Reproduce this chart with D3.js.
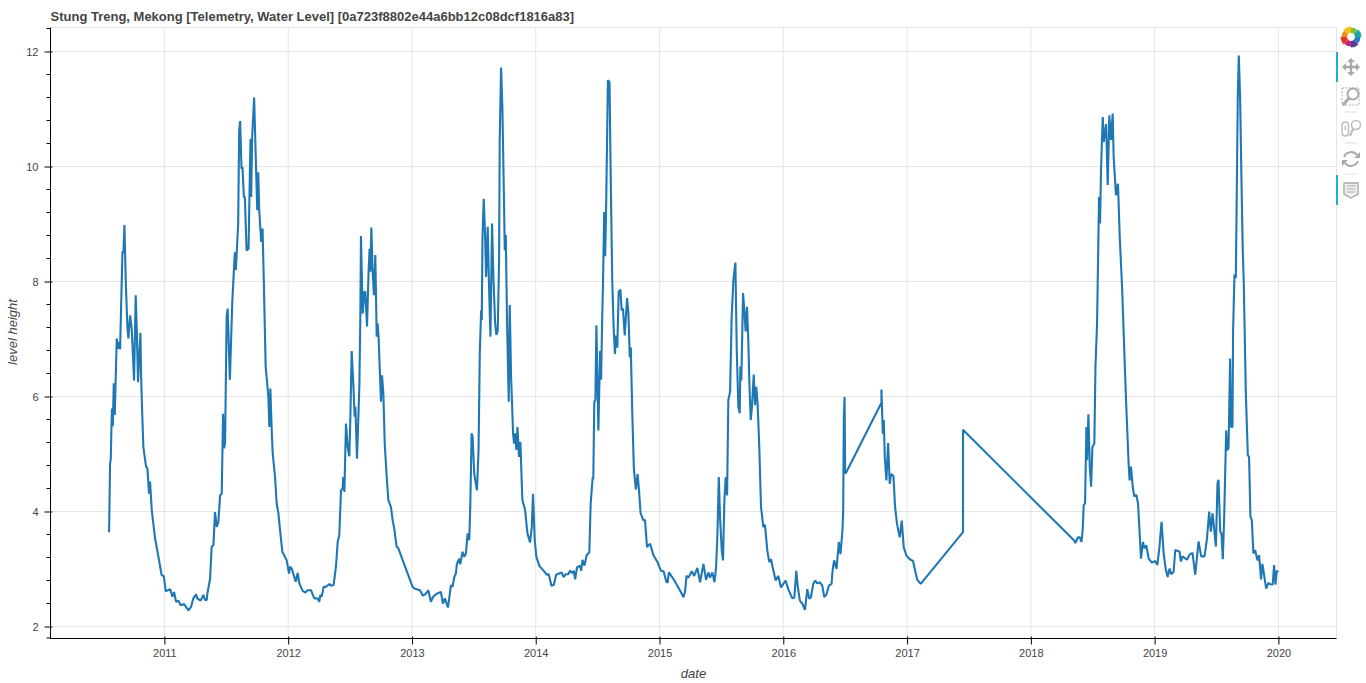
<!DOCTYPE html>
<html><head><meta charset="utf-8">
<script src="https://cdn.jsdelivr.net/npm/d3@7"></script>
<style>
html,body{margin:0;padding:0;background:#fff;overflow:hidden}
svg{display:block}
text{font-family:"Liberation Sans",Arial,Helvetica,sans-serif}
</style></head><body>
<svg id="c" width="1366" height="683"></svg>
<script>
const chartTitle = "Stung Treng, Mekong [Telemetry, Water Level] [0a723f8802e44a6bb12c08dcf1816a83]";
const xLabel = "date", yLabel = "level height";
const yearTicks = [2011,2012,2013,2014,2015,2016,2017,2018,2019,2020];
const levelTicks = [2,4,6,8,10,12];
const levelMinorTicks = [2.4,2.8,3.2,3.6,4.4,4.8,5.2,5.6,6.4,6.8,7.2,7.6,8.4,8.8,9.2,9.6,10.4,10.8,11.2,11.6,12.4,1.8];

// decimal-year dates
const dates = [
2010.553,.561,.567,.572,.577,.583,.591,.599,.615,.626,.634,.642,.661,.669,.677,.688,.701,.709,.723,.736,.755,.768,.777,.787,.806,.812,.820,.830,.852,.863,.876,.884,.898,.925,.952,.978,.995,
2011.011,.046,.065,.078,.094,.113,.132,.159,.194,.215,.234,.256,.266,.293,.315,.328,.342,.347,.369,.382,.396,.409,.423,.436,.450,.463,.474,.482,.490,.503,.511,.529,.548,.564,.570,.577,.596,.604,.612,.623,.631,.642,.650,.664,.680,.690,.696,.701,.709,.725,.739,.750,.758,.766,.782,.793,.803,.818,.833,.840,.848,.856,.867,.875,.894,.907,.921,.934,.953,.988,
2012.007,.015,.028,.061,.077,.090,.117,.139,.157,.184,.211,.238,.251,.260,.271,.287,.306,.333,.347,.367,.386,.400,.413,.427,.440,.445,.454,.467,.481,.494,.502,.513,.526,.537,.543,.556,.575,.583,.588,.602,.615,.623,.637,.650,.658,.664,.672,.682,.693,.704,.715,.723,.731,.739,.750,.758,.769,.780,.796,.809,.830,.844,.857,.876,.890,
2013.005,.019,.065,.086,.108,.132,.153,.172,.199,.234,.250,.266,.291,.315,.328,.342,.355,.363,.382,.390,.409,.423,.436,.450,.463,.471,.482,.490,.503,.525,.538,.548,.559,.564,.570,.580,.591,.599,.612,.620,.634,.647,.658,.672,.682,.693,.704,.709,.720,.731,.742,.750,.758,.769,.782,.790,.801,.817,.825,.833,.844,.852,.865,.876,.892,.914,.933,.954,.968,.978,.992,
2014.005,.030,.060,.090,.105,.127,.146,.165,.209,.225,.242,.263,.277,.296,.307,.318,.334,.356,.367,.378,.394,.411,.433,.444,.460,.465,.473,.482,.490,.506,.520,.528,.536,.544,.553,.561,.569,.583,.596,.607,.618,.629,.640,.648,.659,.670,.684,.694,.705,.719,.738,.749,.760,.768,.779,.793,.809,.823,.834,.847,.869,.883,.899,.924,.951,.984,
2015.011,.033,.055,.065,.076,.120,.167,.194,.207,.218,.234,.261,.280,.306,.328,.355,.376,.395,.409,.427,.444,.457,.468,.479,.489,.503,.513,.524,.535,.546,.556,.570,.583,.597,.613,.624,.637,.648,.653,.661,.675,.686,.696,.707,.718,.726,.737,.747,.761,.772,.782,.793,.806,.820,.839,.852,.871,.887,.901,.914,.938,.960,.981,
2016.000,.019,.040,.073,.089,.105,.116,.134,.156,.175,.194,.210,.223,.242,.258,.274,.296,.315,.331,.349,.368,.390,.398,.411,.430,.449,.462,.478,.484,.489,.495,.500,.511,.793,.793,.804,.812,.820,.833,.847,.860,.871,.890,.903,.919,.941,.957,.973,.995,
2017.022,.048,.065,.083,.110,.452,.452,
2018.352,.360,.379,.395,.409,.419,.427,.438,.449,.454,.465,.476,.487,.497,.513,.522,.535,.543,.551,.559,.567,.581,.589,.608,.621,.634,.648,.661,.669,.688,.704,.718,.737,.750,.769,.790,.798,.809,.823,.836,.852,.866,.879,.890,.906,.917,.933,.952,.978,
2019.005,.022,.038,.056,.073,.089,.105,.121,.134,.153,.167,.202,.212,.226,.261,.282,.306,.328,.355,.376,.403,.422,.441,.454,.468,.495,.508,.516,.530,.540,.551,.562,.578,.586,.597,.602,.610,.618,.629,.634,.645,.656,.664,.672,.680,.691,.702,.712,.720,.737,.753,.763,.774,.785,.798,.812,.831,.844,.860,.871,.901,.919,.938,.954,.965,.976,.987,.997
].reduce((acc, d) => { // entries below 1 continue the current year
  if (d >= 1) { acc.year = Math.floor(d); acc.list.push(d); }
  else acc.list.push(acc.year + d);
  return acc;
}, {year: 0, list: []}).list;

const levels = [
3.64,4.83,4.92,5.47,5.79,5.48,6.23,5.68,7.01,6.83,6.95,6.82,8.52,8.49,8.98,7.99,7.21,7.01,7.41,7.18,6.28,7.76,7.15,6.25,7.11,6.34,5.76,5.12,4.78,4.75,4.31,4.52,4.02,3.53,3.21,2.89,2.88,
2.61,2.65,2.52,2.60,2.43,2.45,2.37,2.39,2.28,2.34,2.49,2.56,2.49,2.45,2.55,2.46,2.46,2.57,2.83,3.39,3.41,3.99,3.73,3.82,4.28,4.31,5.70,5.10,5.18,7.39,7.53,6.29,7.62,8.31,8.51,8.20,9.00,10.62,10.79,9.96,9.99,9.47,9.47,8.54,8.57,9.82,10.48,9.47,10.51,11.20,10.10,9.24,9.90,9.24,8.69,8.92,8.02,6.52,6.17,5.99,5.47,6.14,5.41,5.01,4.60,4.14,3.97,3.68,3.30,3.15,
2.92,3.04,3.01,2.78,2.93,2.75,2.62,2.59,2.63,2.63,2.49,2.49,2.43,2.55,2.52,2.69,2.69,2.74,2.71,2.72,3.04,3.47,3.59,4.37,4.40,4.60,4.34,5.53,5.12,4.96,5.59,6.79,6.23,5.65,5.82,4.92,6.17,7.39,8.79,7.44,7.82,7.82,7.22,8.20,8.57,8.17,8.94,8.20,7.76,8.46,7.04,7.27,7.01,6.52,5.91,6.37,6.05,5.18,4.60,4.20,4.08,3.85,3.70,3.39,3.36,
2.69,2.66,2.63,2.54,2.56,2.63,2.43,2.52,2.57,2.60,2.40,2.49,2.33,2.72,2.69,2.86,2.92,3.09,3.18,3.08,3.30,3.21,3.27,3.62,3.50,4.08,5.36,5.30,4.66,4.37,5.07,6.75,7.50,7.33,8.78,9.44,8.78,8.08,8.95,8.14,7.04,9.01,8.08,7.27,7.07,7.15,8.37,10.46,11.72,10.98,9.59,8.54,8.81,7.21,5.91,7.59,6.34,5.36,5.18,5.36,5.07,5.47,4.95,5.21,4.20,4.03,3.62,3.46,3.73,4.31,3.50,
3.21,3.05,2.98,2.90,2.91,2.71,2.72,2.90,2.94,2.86,2.91,2.91,2.97,2.93,2.97,2.82,3.03,3.06,2.97,3.16,3.06,3.24,3.29,4.15,4.59,4.56,5.91,5.94,7.24,5.41,6.79,6.29,7.26,8.03,9.21,8.44,9.32,11.50,11.47,9.62,8.03,7.21,6.74,7.06,6.85,7.82,7.86,7.50,7.53,7.06,7.71,7.44,6.68,6.85,5.79,4.74,4.38,4.65,4.38,3.97,3.85,3.85,3.38,3.44,3.24,3.12,
2.97,2.96,2.78,2.76,2.94,2.80,2.62,2.51,2.62,2.88,2.85,2.96,2.88,3.02,2.77,3.09,2.81,2.94,2.85,2.94,2.77,3.03,3.61,4.60,3.90,3.32,3.15,4.19,4.60,4.28,5.94,6.08,7.39,8.03,8.33,6.81,5.82,5.71,6.52,6.28,7.80,7.48,7.13,7.56,6.92,6.23,5.59,5.82,6.38,5.85,6.17,5.85,5.12,4.08,3.73,3.77,3.32,3.12,3.17,3.03,2.80,2.88,2.68,
2.74,2.80,2.65,2.49,2.50,2.97,2.71,2.45,2.39,2.29,2.65,2.48,2.51,2.74,2.80,2.75,2.77,2.71,2.51,2.56,2.71,2.74,2.97,3.15,3.00,3.47,3.26,3.67,4.02,5.64,5.99,4.66,4.69,5.89,6.12,5.35,5.59,4.95,4.54,5.19,4.48,4.65,4.62,4.08,3.78,3.55,3.84,3.38,3.23,
3.17,3.14,2.97,2.81,2.74,3.64,5.42,
3.49,3.45,3.55,3.55,3.47,3.68,4.11,4.14,5.47,4.89,5.69,4.78,4.43,5.12,5.18,6.52,7.27,8.37,9.47,9.01,9.94,10.86,10.43,10.74,9.68,10.89,10.46,10.92,10.17,9.50,9.70,8.78,7.91,7.10,5.94,4.83,4.54,4.78,4.43,4.26,4.29,4.14,3.62,3.18,3.47,3.36,3.41,3.18,3.11,
3.14,3.07,3.36,3.82,3.27,3.01,2.86,3.01,2.91,2.95,3.33,3.30,3.13,3.22,3.16,3.25,3.28,2.90,3.48,3.22,3.22,3.51,4.00,3.65,3.97,3.39,4.49,4.55,3.65,3.62,3.17,3.91,5.41,5.07,5.10,5.68,6.66,5.47,5.47,7.15,8.12,8.06,9.59,11.23,11.93,11.17,9.71,8.55,8.00,6.05,4.98,4.95,3.91,3.85,3.27,3.33,3.15,3.24,2.82,3.09,2.66,2.76,2.73,2.73,3.07,2.73,2.97,2.94
];

const n = Math.min(dates.length, levels.length);
const series = d3.range(n).map(i => ({date: dates[i], level: levels[i]}));

const frame = {left: 50.5, right: 1336.5, top: 27.5, bottom: 638.5};
const x = d3.scaleLinear().domain([2011, 2020]).range([164.4, 1278.4]);
const y = d3.scaleLinear().domain([2, 12]).range([626.5, 51.5]);
const svg = d3.select("#c");

// frame + grid
svg.append("rect").attr("x", frame.left).attr("y", frame.top)
  .attr("width", frame.right - frame.left).attr("height", frame.bottom - frame.top)
  .attr("fill", "none").attr("stroke", "#e5e5e5");
const grid = svg.append("g").attr("stroke", "#e5e5e5").attr("stroke-width", 1);
grid.selectAll("line.gx").data(yearTicks).join("line")
  .attr("x1", d => x(d)).attr("x2", d => x(d)).attr("y1", frame.top).attr("y2", frame.bottom);
grid.selectAll("line.gy").data(levelTicks).join("line")
  .attr("x1", frame.left).attr("x2", frame.right).attr("y1", d => y(d)).attr("y2", d => y(d));

// series
svg.append("path").datum(series)
  .attr("d", d3.line().x(d => x(d.date)).y(d => y(d.level)))
  .attr("fill", "none").attr("stroke", "#1f77b4").attr("stroke-width", 2.1).attr("stroke-linejoin", "bevel");

// axes
const gx = svg.append("g").attr("transform", `translate(0,${frame.bottom})`)
  .call(d3.axisBottom(x).tickValues(yearTicks).tickFormat(d3.format("d")).tickSize(6).tickPadding(5));
const gy = svg.append("g").attr("transform", `translate(${frame.left},0)`)
  .call(d3.axisLeft(y).tickValues(levelTicks).tickFormat(d3.format("d")).tickSize(6).tickPadding(6));
[gx, gy].forEach(g => {
  g.select(".domain").remove();
  g.selectAll("text").attr("font-size", 11).attr("fill", "#444").style("font-family", '"Liberation Sans",Arial,sans-serif');
  g.selectAll("line").attr("stroke", "#000");
});
gx.selectAll("g.tick").append("line").attr("y1", 0).attr("y2", -2).attr("stroke", "#000");
gy.selectAll("g.tick").append("line").attr("x1", 0).attr("x2", 2).attr("stroke", "#000");
gy.selectAll("line.minor").data(levelMinorTicks).join("line").attr("class", "minor")
  .attr("x1", -4).attr("x2", 0).attr("y1", d => y(d) ).attr("y2", d => y(d)).attr("stroke", "#000");
svg.append("line").attr("x1", frame.left).attr("x2", frame.left).attr("y1", frame.top).attr("y2", frame.bottom).attr("stroke", "#000");
svg.append("line").attr("x1", frame.left).attr("x2", frame.right).attr("y1", frame.bottom).attr("y2", frame.bottom).attr("stroke", "#000");

// titles
svg.append("text").attr("x", 50.5).attr("y", 20.5).attr("font-size", 13).attr("font-weight", "bold").attr("fill", "#444").text(chartTitle);
svg.append("text").attr("x", 693.5).attr("y", 677.5).attr("text-anchor", "middle").attr("font-size", 13).attr("font-style", "italic").attr("fill", "#444").text(xLabel);
svg.append("text").attr("transform", "translate(16.5,332) rotate(-90)").attr("text-anchor", "middle").attr("font-size", 13).attr("font-style", "italic").attr("fill", "#444").text(yLabel);

// toolbar
const tb = svg.append("g");
const logoColors = ["#7dbf3a","#1fa6a0","#2a7fc6","#5b3d99","#c4237c","#e8362b","#f58a1f","#fbc01a"];
const logo = tb.append("g").attr("transform", "translate(1351,37)");
const pie = d3.pie().value(1).sort(null)(logoColors);
logo.selectAll("path").data(pie).join("path")
  .attr("d", d3.arc().innerRadius(4).outerRadius(d => d.index % 2 ? 10.5 : 9.5))
  .attr("fill", d => d.data);
tb.selectAll("rect.act").data([52, 175]).join("rect").attr("class", "act")
  .attr("x", 1336).attr("y", d => d).attr("width", 2).attr("height", 30).attr("fill", "#26aae1");
tb.selectAll("line.sep").data([112, 143, 174]).join("line").attr("class", "sep")
  .attr("x1", 1345).attr("x2", 1357).attr("y1", d => d).attr("y2", d => d).attr("stroke", "#ddd");
const ic = "#a9a9a9";
// pan
const pan = tb.append("g").attr("transform", "translate(1351,67)").attr("stroke", ic).attr("fill", ic);
pan.append("path").attr("d", "M-7,0H7M0,-7V7").attr("stroke-width", 2.4);
pan.append("path").attr("d", "M-9,0L-5,-4V4ZM9,0L5,-4V4ZM0,-9L-4,-5H4ZM0,9L-4,5H4Z").attr("stroke", "none");
// box zoom
const bz = tb.append("g").attr("transform", "translate(1351,97)").attr("fill", "none").attr("stroke", ic);
bz.append("rect").attr("x", -9).attr("y", -9).attr("width", 17).attr("height", 17).attr("stroke-dasharray", "2,1.5");
bz.append("circle").attr("cx", 2).attr("cy", -3).attr("r", 5.5).attr("stroke-width", 2).attr("fill", "#fff");
bz.append("path").attr("d", "M-2,1L-8,8").attr("stroke-width", 3);
// wheel zoom
const wz = tb.append("g").attr("transform", "translate(1351,128)").attr("fill", "none").attr("stroke", "#bdbdbd");
wz.append("rect").attr("x", -9).attr("y", -6).attr("width", 6.5).attr("height", 14).attr("rx", 3.2).attr("stroke-width", 1.5);
wz.append("path").attr("d", "M-5.7,-2V2").attr("stroke-width", 1.5);
wz.append("circle").attr("cx", 5).attr("cy", -3).attr("r", 4.5).attr("stroke-width", 1.6);
wz.append("path").attr("d", "M2,1L-1,8").attr("stroke-width", 2.2);
// reset
const rs = tb.append("g").attr("transform", "translate(1351,159)").attr("fill", "none").attr("stroke", ic).attr("stroke-width", 2);
rs.append("path").attr("d", "M-7,-2A7.5,7.5 0 0 1 6,-4");
rs.append("path").attr("d", "M7,2A7.5,7.5 0 0 1 -6,4");
rs.append("path").attr("d", "M9,-7V-1H3ZM-9,7V1H-3Z").attr("fill", ic).attr("stroke", "none");
// hover
const hv = tb.append("g").attr("transform", "translate(1351,190)");
hv.append("path").attr("d", "M-7,-7H7V4L0,8L-7,4Z").attr("fill", "#f1f1f1").attr("stroke", ic).attr("stroke-width", 1.4);
hv.append("path").attr("d", "M-4.5,-4H4.5M-4.5,-1H4.5M-4.5,2H4.5").attr("stroke", "#a9a9a9").attr("stroke-width", 1);
</script>
</body></html>
